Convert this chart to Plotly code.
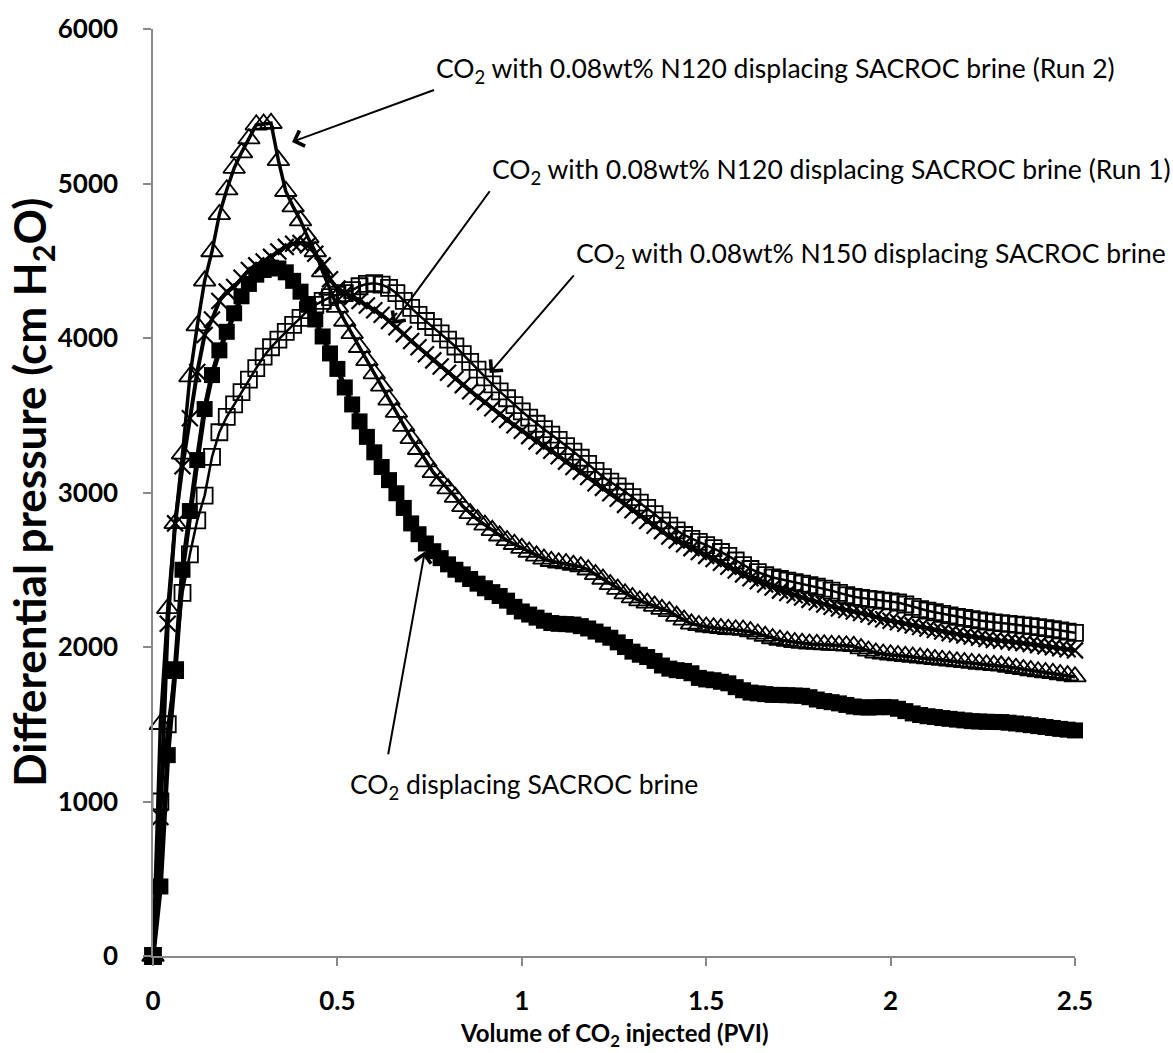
import plotly.graph_objects as go

# Sampling positions (PVI)
x_pvi = [0.00, 0.02, 0.04, 0.06, 0.08, 0.10, 0.12, 0.14, 0.16, 0.18,
         0.20, 0.22, 0.24, 0.26, 0.28, 0.30, 0.32, 0.34, 0.36, 0.38,
         0.40, 0.42, 0.44, 0.46, 0.48, 0.50, 0.52, 0.54, 0.56, 0.58,
         0.60, 0.62, 0.64, 0.66, 0.68, 0.70, 0.72, 0.74, 0.76, 0.78,
         0.80, 0.82, 0.84, 0.86, 0.88, 0.90, 0.92, 0.94, 0.96, 0.98,
         1.00, 1.02, 1.04, 1.06, 1.08, 1.10, 1.12, 1.14, 1.16, 1.18,
         1.20, 1.22, 1.24, 1.26, 1.28, 1.30, 1.32, 1.34, 1.36, 1.38,
         1.40, 1.42, 1.44, 1.46, 1.48, 1.50, 1.52, 1.54, 1.56, 1.58,
         1.60, 1.62, 1.64, 1.66, 1.68, 1.70, 1.72, 1.74, 1.76, 1.78,
         1.80, 1.82, 1.84, 1.86, 1.88, 1.90, 1.92, 1.94, 1.96, 1.98,
         2.00, 2.02, 2.04, 2.06, 2.08, 2.10, 2.12, 2.14, 2.16, 2.18,
         2.20, 2.22, 2.24, 2.26, 2.28, 2.30, 2.32, 2.34, 2.36, 2.38,
         2.40, 2.42, 2.44, 2.46, 2.48, 2.50]

# CO2 displacing SACROC brine (filled squares)
dp_brine = [0, 450, 1300, 1850, 2500, 2880, 3210, 3540, 3760, 3920,
            4040, 4160, 4270, 4350, 4410, 4440, 4455, 4450, 4425, 4370,
            4300, 4215, 4120, 4010, 3900, 3800, 3680, 3570, 3460, 3360,
            3260, 3165, 3080, 2995, 2900, 2800, 2730, 2670, 2620, 2575,
            2535, 2500, 2470, 2440, 2410, 2380, 2355, 2330, 2300, 2260,
            2230, 2210, 2190, 2170, 2155, 2150, 2148, 2145, 2135, 2120,
            2100, 2080, 2060, 2030, 2000, 1970, 1950, 1935, 1910, 1880,
            1860, 1850, 1845, 1830, 1800, 1790, 1785, 1775, 1765, 1740,
            1720, 1705, 1700, 1695, 1690, 1690, 1688, 1686, 1684, 1675,
            1660, 1650, 1643, 1635, 1625, 1615, 1610, 1608, 1610, 1612,
            1610, 1600, 1585, 1570, 1560, 1552, 1547, 1540, 1535, 1530,
            1525, 1520, 1518, 1516, 1515, 1514, 1510, 1505, 1500, 1494,
            1488, 1482, 1476, 1470, 1465, 1460]

# CO2 with 0.08wt% N120 (Run 2) (open triangles)
dp_n120_run2 = [0, 1500, 2250, 2800, 3250, 3750, 4080, 4370, 4560, 4800,
                4960, 5100, 5200, 5290, 5380, 5385, 5390, 5150, 4950, 4850,
                4760, 4650, 4560, 4430, 4310, 4200, 4110, 4030, 3940, 3855,
                3770, 3690, 3600, 3520, 3430, 3350, 3280, 3200, 3130, 3075,
                3025, 2970, 2910, 2865, 2825, 2790, 2755, 2720, 2690, 2665,
                2640, 2615, 2590, 2570, 2555, 2545, 2540, 2530, 2520, 2500,
                2470, 2440, 2405, 2375, 2345, 2320, 2300, 2285, 2265, 2245,
                2230, 2200, 2175, 2150, 2140, 2130, 2125, 2120, 2115, 2112,
                2110, 2100, 2085, 2070, 2055, 2045, 2038, 2030, 2025, 2020,
                2018, 2015, 2012, 2010, 2008, 2005, 1990, 1975, 1962, 1955,
                1950, 1945, 1940, 1935, 1930, 1925, 1920, 1915, 1910, 1905,
                1900, 1895, 1890, 1886, 1882, 1878, 1870, 1862, 1855, 1848,
                1840, 1835, 1830, 1822, 1815, 1808]

# CO2 with 0.08wt% N120 (Run 1) (x markers)
dp_n120_run1 = [0, 900, 2150, 2800, 3170, 3480, 3780, 4020, 4120, 4240,
                4300, 4330, 4390, 4440, 4470, 4495, 4525, 4560, 4590, 4610,
                4615, 4600, 4545, 4470, 4380, 4320, 4290, 4265, 4240, 4210,
                4180, 4150, 4110, 4070, 4025, 3980, 3940, 3895, 3855, 3815,
                3775, 3735, 3695, 3655, 3620, 3585, 3545, 3505, 3470, 3435,
                3400, 3365, 3330, 3300, 3270, 3235, 3200, 3165, 3135, 3100,
                3060, 3030, 2995, 2960, 2920, 2885, 2850, 2815, 2785, 2750,
                2715, 2690, 2665, 2640, 2615, 2590, 2570, 2545, 2520, 2495,
                2470, 2445, 2425, 2405, 2385, 2365, 2350, 2335, 2320, 2305,
                2290, 2275, 2260, 2250, 2240, 2230, 2220, 2210, 2195, 2180,
                2170, 2160, 2150, 2140, 2130, 2120, 2110, 2100, 2090, 2082,
                2075, 2068, 2060, 2052, 2045, 2040, 2035, 2030, 2025, 2020,
                2012, 2005, 1998, 1992, 1985, 1978]

# CO2 with 0.08wt% N150 (open squares)
dp_n150 = [0, 1000, 1500, 1850, 2350, 2600, 2820, 2980, 3230, 3390,
           3490, 3570, 3650, 3730, 3805, 3880, 3940, 3990, 4040, 4085,
           4130, 4180, 4215, 4240, 4265, 4280, 4290, 4310, 4335, 4350,
           4355, 4345, 4325, 4290, 4240, 4195, 4150, 4110, 4070, 4030,
           3990, 3945, 3895, 3845, 3795, 3745, 3700, 3655, 3610, 3565,
           3525, 3485, 3445, 3410, 3375, 3340, 3300, 3265, 3225, 3185,
           3140, 3100, 3070, 3040, 3005, 2970, 2935, 2900, 2860, 2820,
           2785, 2755, 2725, 2700, 2680, 2660, 2640, 2615, 2590, 2560,
           2530, 2505, 2485, 2465, 2450, 2440, 2430, 2420, 2410, 2400,
           2390, 2378, 2365, 2350, 2335, 2325, 2318, 2312, 2306, 2300,
           2295, 2288, 2275, 2260, 2245, 2235, 2225, 2215, 2205, 2195,
           2188, 2180, 2172, 2165, 2160, 2155, 2150, 2145, 2140, 2135,
           2128, 2122, 2115, 2108, 2100, 2092]

x_ticks = [0, 0.5, 1, 1.5, 2, 2.5]
x_tick_text = ["0", "0.5", "1", "1.5", "2", "2.5"]
y_ticks = [0, 1000, 2000, 3000, 4000, 5000, 6000]
y_tick_text = ["0", "1000", "2000", "3000", "4000", "5000", "6000"]

label_run2 = "CO<sub>2</sub> with 0.08wt% N120 displacing SACROC brine (Run 2)"
label_run1 = "CO<sub>2</sub> with 0.08wt% N120 displacing SACROC brine (Run 1)"
label_n150 = "CO<sub>2</sub> with 0.08wt% N150 displacing SACROC brine"
label_brine = "CO<sub>2</sub> displacing SACROC brine"

FONT = "Lato, 'Open Sans', sans-serif"

fig = go.Figure()

fig.add_trace(go.Scatter(
    x=x_pvi, y=dp_n150, mode="lines+markers", name="N150",
    line=dict(color="black", width=2.5),
    marker=dict(symbol="square-open", size=16, color="black", line=dict(width=1.8, color="black")),
    cliponaxis=False))

fig.add_trace(go.Scatter(
    x=x_pvi, y=dp_n120_run1, mode="lines+markers", name="N120 Run 1",
    line=dict(color="black", width=4),
    marker=dict(symbol="x-thin-open", size=16, color="black", line=dict(width=2.2, color="black")),
    cliponaxis=False))

fig.add_trace(go.Scatter(
    x=x_pvi, y=dp_n120_run2, mode="lines+markers", name="N120 Run 2",
    line=dict(color="black", width=3.5),
    marker=dict(symbol="triangle-up-open", size=19, color="black", line=dict(width=1.8, color="black")),
    cliponaxis=False))

fig.add_trace(go.Scatter(
    x=x_pvi, y=dp_brine, mode="lines+markers", name="Brine",
    line=dict(color="black", width=5),
    marker=dict(symbol="square", size=16, color="black", line=dict(width=0)),
    cliponaxis=False))

ARROW = dict(showarrow=True, arrowhead=4, arrowsize=1.6, arrowwidth=2, arrowcolor="black")

# labels carrying their own arrow: (head x, head y, text-corner x, text-corner y, text)
callouts = [
    (0.377, 5269, 0.762, 5605, label_run2),
    (0.650, 4090, 0.913, 4950, label_run1),
    (0.913, 3773, 1.141, 4405, label_n150),
]
for hx, hy, tx, ty, t in callouts:
    fig.add_annotation(x=hx, y=hy, ax=tx, ay=ty, xref="x", yref="y",
                       axref="x", ayref="y", text=t, xanchor="left", yanchor="bottom",
                       font=dict(family=FONT, size=26.5, color="black"), **ARROW)

# brine label and its arrow
fig.add_annotation(x=0.528, y=1100, xref="x", yref="y", text=label_brine, showarrow=False,
                   xanchor="left", yanchor="middle",
                   font=dict(family=FONT, size=26.5, color="black"))
fig.add_annotation(x=0.737, y=2618, ax=0.637, ay=1296, xref="x", yref="y",
                   axref="x", ayref="y", text="", **ARROW)

# axis titles
fig.add_annotation(x=-0.131, y=0.5, xref="paper", yref="paper", textangle=-90,
                   text="<b>Differential pressure (cm H<sub>2</sub>O)</b>", showarrow=False,
                   xanchor="center", yanchor="middle",
                   font=dict(family=FONT, size=44, color="black"))
fig.add_annotation(x=0.5, y=-0.0845, xref="paper", yref="paper",
                   text="<b>Volume of CO<sub>2</sub> injected (PVI)</b>", showarrow=False,
                   xanchor="center", yanchor="middle",
                   font=dict(family=FONT, size=24, color="black"))

fig.update_layout(
    width=1173, height=1053,
    margin=dict(l=153, r=98, t=21, b=97),
    paper_bgcolor="white", plot_bgcolor="white",
    showlegend=False,
    font=dict(family=FONT, color="black"),
    xaxis=dict(range=[0, 2.5], tickvals=x_ticks, ticktext=x_tick_text,
               showgrid=False, zeroline=False, showline=True, linecolor="#888888",
               linewidth=1.5, ticks="outside", ticklen=8, tickcolor="#888888",
               tickwidth=1.5, ticklabelstandoff=13,
               tickfont=dict(family=FONT, size=26, color="black", weight="bold")),
    yaxis=dict(range=[0, 6000], tickvals=y_ticks, ticktext=y_tick_text,
               showgrid=False, zeroline=False, showline=True, linecolor="#888888",
               linewidth=1.5, ticks="outside", ticklen=8, tickcolor="#888888",
               tickwidth=1.5, ticklabelstandoff=20,
               tickfont=dict(family=FONT, size=26, color="black", weight="bold")),
)

fig.write_html("out.html")
